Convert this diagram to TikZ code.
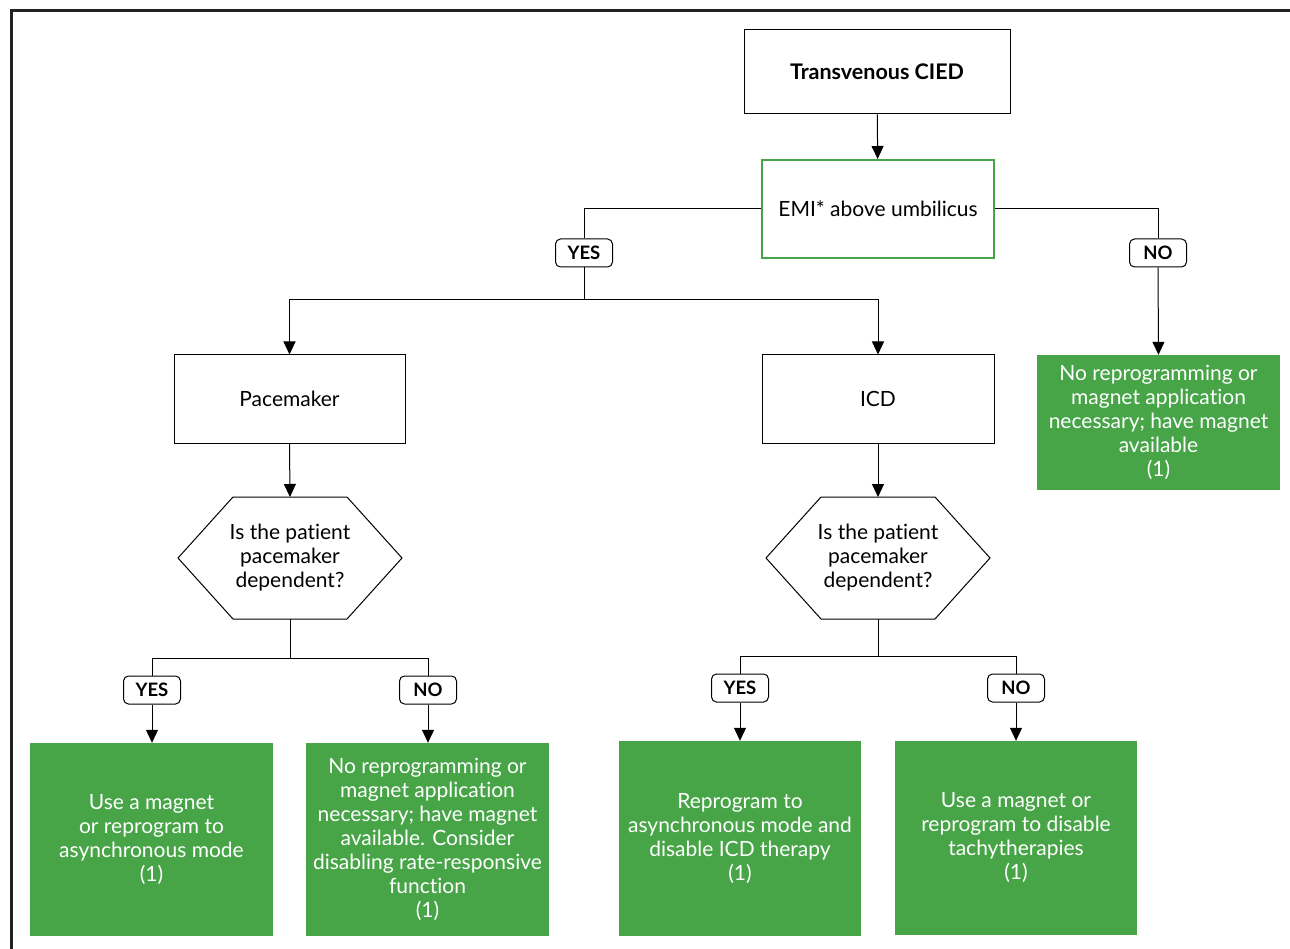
\documentclass[tikz,border=0pt]{standalone}
\usepackage{fontspec}
\setmainfont{Lato}[Ligatures={NoCommon}]
\usetikzlibrary{arrows.meta}
\definecolor{boxgreen}{HTML}{47A548}
\definecolor{framegray}{HTML}{222222}
\tikzset{
  every node/.style={font=\fontsize{21}{24}\selectfont, align=center, inner sep=0pt},
  plainbox/.style={draw=black, line width=1pt, fill=white},
  greenbox/.style={fill=boxgreen, text=white},
  lbl/.style={draw=black, line width=1pt, fill=white, rounded corners=5pt, minimum width=57pt, minimum height=28pt, font=\fontsize{18.5}{20}\selectfont\bfseries},
  conn/.style={line width=1pt, draw=black},
  arr/.style={conn, -{Triangle[width=12pt,length=13pt]}},
  hexline/.style={line width=1pt, fill=white},
}
\begin{document}
\begin{tikzpicture}[x=1pt,y=-1pt]
\useasboundingbox (0,0) rectangle (1290,949);
\draw[framegray, line width=3pt] (11,949) -- (11,11) -- (1290,11);

% top boxes
\node[plainbox, minimum width=266pt, minimum height=84pt, font=\fontsize{21.5}{24}\selectfont\bfseries] (cied) at (877,72) {Transvenous CIED};
\node[draw=boxgreen, line width=2pt, fill=white, minimum width=232pt, minimum height=98pt] (emi) at (878,209) {EMI* above umbilicus};

\node[plainbox, minimum width=231pt, minimum height=88pt] (pace) at (289.5,399) {Pacemaker};
\node[plainbox, minimum width=232pt, minimum height=88pt] (icd) at (878,399) {ICD};
\node[greenbox, minimum width=243pt, minimum height=135pt] (noA) at (1158.5,422.5) {No reprogramming or\\magnet application\\necessary; have magnet\\available\\(1)};

% hexagons
\draw[hexline] (233,497) -- (347,497) -- (402,558) -- (347,619) -- (233,619) -- (178,558) -- cycle;
\node (hexL) at (290,558) {Is the patient\\pacemaker\\dependent?};
\coordinate (hexLt) at (290,497);
\coordinate (hexLb) at (290,619);

\draw[hexline] (821,497) -- (935,497) -- (990,558) -- (935,619) -- (821,619) -- (766,558) -- cycle;
\node (hexR) at (878,558) {Is the patient\\pacemaker\\dependent?};
\coordinate (hexRt) at (878,497);
\coordinate (hexRb) at (878,619);

% bottom green boxes
\node[greenbox, minimum width=243pt, minimum height=193pt] (b1) at (151.5,839.5) {Use a magnet\\or reprogram to\\asynchronous mode\\(1)};
\node[greenbox, minimum width=243pt, minimum height=193pt] (b2) at (427.5,839.5) {No reprogramming or\\magnet application\\necessary; have magnet\\available. Consider\\disabling rate-responsive\\function\\(1)};
\node[greenbox, minimum width=242pt, minimum height=195pt] (b3) at (740,838.5) {Reprogram to\\asynchronous mode and\\disable ICD therapy\\(1)};
\node[greenbox, minimum width=242pt, minimum height=194pt] (b4) at (1016,838) {Use a magnet or\\reprogram to disable\\tachytherapies\\(1)};

% labels
\node[lbl] (yesA) at (584,253) {YES};
\node[lbl] (noLab) at (1158,253) {NO};
\node[lbl] (yesB) at (152,690) {YES};
\node[lbl] (noB) at (428,690) {NO};
\node[lbl] (yesC) at (740,688) {YES};
\node[lbl] (noC) at (1016,688) {NO};

% junctions
\coordinate (j1) at (584,300);
\coordinate (j2) at (290,658);
\coordinate (j3) at (878,656);

% connectors
\draw[arr] (cied) -- (emi);
\draw[conn] (emi.west) -| (yesA.north);
\draw[conn] (yesA.south) -- (j1);
\draw[arr] (j1) -| (pace.north);
\draw[arr] (j1) -| (icd.north);
\draw[conn] (emi.east) -| (noLab.north);
\draw[arr] (noLab.south) -- (noA.north);

\draw[arr] (pace.south) -- (hexLt);
\draw[arr] (icd.south) -- (hexRt);

\draw[conn] (hexLb) -- (j2);
\draw[conn] (j2) -| (yesB.north);
\draw[conn] (j2) -| (noB.north);
\draw[arr] (yesB.south) -- (b1.north -| yesB);
\draw[arr] (noB.south) -- (b2.north -| noB);

\draw[conn] (hexRb) -- (j3);
\draw[conn] (j3) -| (yesC.north);
\draw[conn] (j3) -| (noC.north);
\draw[arr] (yesC.south) -- (b3.north -| yesC);
\draw[arr] (noC.south) -- (b4.north -| noC);
\end{tikzpicture}
\end{document}
